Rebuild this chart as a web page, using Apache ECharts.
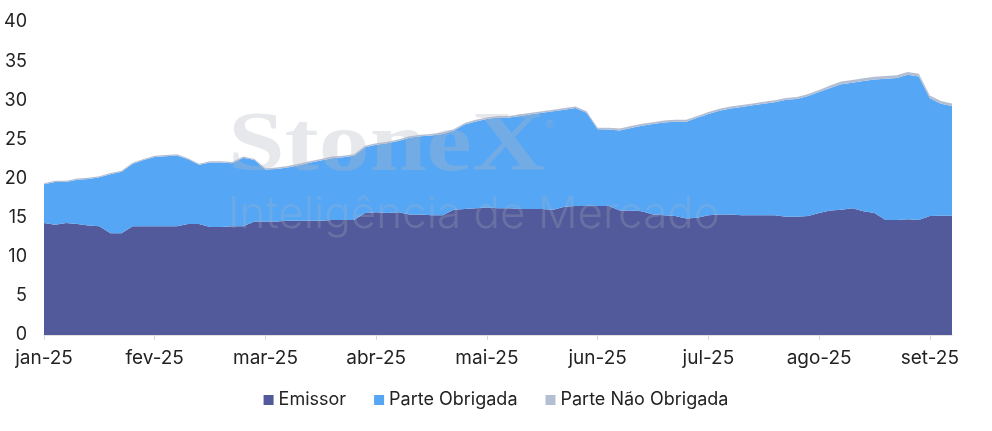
<!DOCTYPE html>
<html lang="pt">
<head>
<meta charset="UTF-8">
<title>Emissor / Parte Obrigada / Parte Não Obrigada</title>
<script src="https://cdn.jsdelivr.net/npm/echarts@6/dist/echarts.min.js"></script>
<style>
  html, body { margin: 0; padding: 0; background: #fff; }
  #main { width: 992px; height: 431px; }
</style>
</head>
<body>
<div id="main"></div>
<script>
// rótulos dos meses (um a cada 10 pontos)
var meses = ['jan-25', 'fev-25', 'mar-25', 'abr-25', 'mai-25', 'jun-25', 'jul-25', 'ago-25', 'set-25'];
var pontosPorMes = 10;

// valores (bilhões)
var emissor = [
  14.3, 14.1, 14.3, 14.2, 14.0, 13.9, 13.0, 13.0, 13.9, 13.9,
  13.9, 13.9, 13.9, 14.2, 14.2, 13.8, 13.8, 13.9, 13.9, 14.5,
  14.5, 14.5, 14.6, 14.6, 14.6, 14.6, 14.7, 14.7, 14.7, 15.6,
  15.7, 15.6, 15.7, 15.4, 15.4, 15.3, 15.3, 16.0, 16.1, 16.2,
  16.3, 16.2, 16.2, 16.1, 16.1, 16.1, 16.0, 16.4, 16.5, 16.5,
  16.5, 16.5, 15.9, 15.9, 15.8, 15.4, 15.3, 15.2, 14.9, 15.0,
  15.3, 15.4, 15.4, 15.3, 15.3, 15.3, 15.3, 15.1, 15.1, 15.2,
  15.6, 15.9, 16.0, 16.2, 15.8, 15.6, 14.7, 14.7, 14.8, 14.7,
  15.2, 15.25, 15.25
];
var parteObrigada = [
  4.95, 5.45, 5.25, 5.65, 5.95, 6.25, 7.55, 7.85, 7.95, 8.45,
  8.85, 8.95, 9.05, 8.25, 7.55, 8.25, 8.25, 8.05, 8.75, 7.85,
  6.65, 6.7, 6.8, 7.1, 7.4, 7.7, 7.9, 8.0, 8.2, 8.4,
  8.6, 8.9, 9.1, 9.8, 10.0, 10.2, 10.4, 10.1, 10.8, 11.1,
  11.3, 11.6, 11.6, 11.9, 12.1, 12.3, 12.6, 12.4, 12.5, 11.9,
  9.8, 9.75, 10.25, 10.55, 10.95, 11.55, 11.85, 12.05, 12.35, 12.75,
  12.95, 13.25, 13.55, 13.85, 14.05, 14.25, 14.45, 14.95, 15.05, 15.35,
  15.45, 15.65, 16.05, 16.05, 16.65, 17.05, 18.05, 18.15, 18.45, 18.35,
  15.05, 14.3, 14.0
];
var parteNaoObrigada = [
  0.15, 0.15, 0.15, 0.15, 0.15, 0.15, 0.15, 0.15, 0.15, 0.15,
  0.15, 0.15, 0.15, 0.15, 0.15, 0.15, 0.15, 0.15, 0.15, 0.15,
  0.15, 0.2, 0.2, 0.2, 0.2, 0.2, 0.2, 0.2, 0.2, 0.2,
  0.2, 0.2, 0.2, 0.2, 0.2, 0.2, 0.2, 0.2, 0.2, 0.2,
  0.2, 0.2, 0.2, 0.2, 0.2, 0.2, 0.2, 0.2, 0.2, 0.2,
  0.2, 0.25, 0.25, 0.25, 0.25, 0.25, 0.25, 0.25, 0.25, 0.25,
  0.25, 0.25, 0.25, 0.25, 0.25, 0.25, 0.25, 0.25, 0.25, 0.25,
  0.25, 0.35, 0.35, 0.35, 0.35, 0.35, 0.35, 0.35, 0.35, 0.35,
  0.35, 0.35, 0.35
];
var yTicks = [0, 5, 10, 15, 20, 25, 30, 35, 40];

// eixo x: um rótulo de mês no início de cada bloco
var categorias = emissor.map(function (v, i) {
  return i % pontosPorMes === 0 ? meses[i / pontosPorMes] : '';
});

var myChart = echarts.init(document.getElementById('main'));

function serie(nome, dados, cor) {
  return {
    name: nome,
    type: 'line',
    stack: 'total',
    data: dados,
    symbol: 'none',
    lineStyle: { width: 0 },
    areaStyle: { color: cor, opacity: 1 },
    itemStyle: { color: cor },
    emphasis: { disabled: true }
  };
}

var option = {
  animation: false,
  textStyle: { fontFamily: 'Inter, "Noto Sans", sans-serif' },
  grid: { left: 44, right: 40, top: 22, bottom: 96 },
  legend: {
    bottom: 17,
    left: 'center',
    itemWidth: 10,
    itemHeight: 10,
    itemGap: 28,
    icon: 'rect',
    textStyle: { fontSize: 18, color: '#222' },
    data: ['Emissor', 'Parte Obrigada', 'Parte Não Obrigada']
  },
  xAxis: {
    type: 'category',
    data: categorias,
    boundaryGap: false,
    axisLine: { lineStyle: { color: '#d9d9d9', width: 1.5 } },
    axisTick: {
      show: true,
      length: 5,
      lineStyle: { color: '#d9d9d9' },
      interval: function (i) { return i % pontosPorMes === 0; }
    },
    axisLabel: {
      interval: function (i) { return i % pontosPorMes === 0; },
      fontSize: 19,
      color: '#222',
      margin: 14
    }
  },
  yAxis: {
    type: 'value',
    min: yTicks[0],
    max: yTicks[yTicks.length - 1],
    interval: 5,
    splitLine: { show: false },
    axisLine: { show: false },
    axisTick: { show: false },
    axisLabel: { fontSize: 18, color: '#222', margin: 17 }
  },
  graphic: [
    {
      type: 'text', left: 228, top: 106, z: 100, silent: true, scaleX: 1.2,
      style: { text: 'StoneX', font: 'bold 85px "Liberation Serif", serif', fill: 'rgba(180,185,192,0.32)' }
    },
    {
      type: 'text', left: 546, top: 119, z: 100, silent: true,
      style: { text: '®', font: '11px sans-serif', fill: 'rgba(180,185,192,0.45)' }
    },
    {
      type: 'text', left: 228, top: 193, z: 100, silent: true,
      style: { text: 'Inteligência de Mercado', font: '300 44px Inter, sans-serif', fill: 'rgba(180,185,192,0.24)' }
    }
  ],
  series: [
    serie('Emissor', emissor, '#525A9B'),
    serie('Parte Obrigada', parteObrigada, '#55A6F5'),
    serie('Parte Não Obrigada', parteNaoObrigada, '#B4BED2')
  ]
};

myChart.setOption(option);
window.onresize = myChart.resize;
</script>
</body>
</html>
